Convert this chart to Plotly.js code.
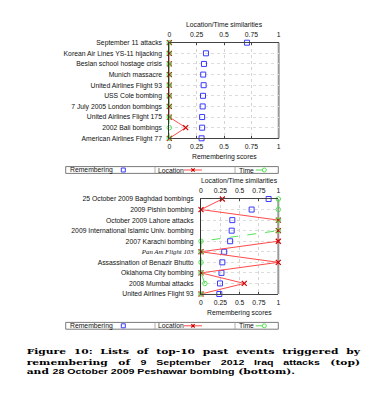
<!DOCTYPE html>
<html>
<head>
<meta charset="utf-8">
<script src="https://cdn.plot.ly/plotly-3.0.1.min.js"></script>
<style>
  html, body { margin: 0; padding: 0; background: #fff; }
  #wrap { position: relative; width: 377px; height: 400px; overflow: hidden; }
  #chart { position: absolute; left: 0; top: 0; width: 377px; height: 400px; }
  #caption {
    position: absolute; left: 26.7px; top: 347.4px; width: 333.3px;
    font-family: "DejaVu Serif", "Liberation Serif", serif; font-weight: bold;
    font-size: 10.7px; line-height: 12.6px; color: #000;
    transform: scaleY(0.765); transform-origin: 0 0;
  }
  #caption div { white-space: nowrap; height: 12.6px; overflow: visible; }
  #caption .j { text-align: justify; text-align-last: justify; }
  #caption .s { font-family: "Liberation Sans", Arial, sans-serif; font-size: 10.6px; }
</style>
</head>
<body>
<div id="wrap">
  <div id="chart"></div>
  <div id="caption">
    <div class="j">Figure 10: Lists of top-10 past events triggered by</div>
    <div class="j">remembering of <span class="s">9 September 2012 Iraq attacks</span> (top)</div>
    <div>and <span class="s">28 October 2009 Peshawar bombing</span> (bottom).</div>
  </div>
</div>
<script>
// ---- Data: top chart (9 September 2012 Iraq attacks) ----
const topEvents = [
  "September 11 attacks",
  "Korean Air Lines YS-11 hijacking",
  "Beslan school hostage crisis",
  "Munich massacre",
  "United Airlines Flight 93",
  "USS Cole bombing",
  "7 July 2005 London bombings",
  "United Airlines Flight 175",
  "2002 Bali bombings",
  "American Airlines Flight 77"
];
const topRemembering = [0.71, 0.335, 0.317, 0.31, 0.314, 0.308, 0.305, 0.30, 0.30, 0.295];
const topLocation    = [0, 0, 0, 0, 0, 0, 0, 0, 0.15, 0];
const topTime        = [0, 0, 0, 0, 0, 0, 0, 0, 0, 0];

// ---- Data: bottom chart (28 October 2009 Peshawar bombing) ----
const bottomEvents = [
  "25 October 2009 Baghdad bombings",
  "2009 Pishin bombing",
  "October 2009 Lahore attacks",
  "2009 International Islamic Univ. bombing",
  "2007 Karachi bombing",
  "Pan Am Flight 103",
  "Assassination of Benazir Bhutto",
  "Oklahoma City bombing",
  "2008 Mumbai attacks",
  "United Airlines Flight 93"
];
const bottomRemembering = [0.875, 0.655, 0.405, 0.397, 0.377, 0.30, 0.276, 0.265, 0.246, 0.237];
const bottomLocation    = [0.276, 0, 1, 1, 1, 0, 1, 0, 0.56, 0];
const bottomTime        = [1, 1, 1, 1, 0, 0, 0, 0, 0.05, 0];

const italicLabels = ["Pan Am Flight 103"];
const scoreTicks = [0, 0.25, 0.5, 0.75, 1];
const scoreTickText = ["0", "0.25", "0.5", "0.75", "1"];
const legendNames = ["Remembering", "Location", "Time"];

// ---- Layout helpers ----
const W = 377, H = 400;
const px = x => x / W;
const py = y => 1 - y / H;
const FONT = "Liberation Sans, Arial, sans-serif";
const FS = 6.8;
const BLUE = "#3a3aff", RED = "#ff4a4a", GREEN = "#55e055";

function tickLabel(s) {
  return italicLabels.includes(s)
    ? "<i><span style='font-family:Liberation Serif, Times New Roman, serif'>" + s + "</span></i>"
    : s;
}

function traces(cats, rem, loc, tim, xb, xt, y) {
  return [
    { x: rem, y: cats, xaxis: xb, yaxis: y, type: "scatter", mode: "markers", cliponaxis: false,
      marker: { symbol: "square-open", size: 5, color: BLUE, line: { width: 1, color: BLUE } }, showlegend: false },
    { x: loc, y: cats, xaxis: xt, yaxis: y, type: "scatter", mode: "lines+markers", cliponaxis: false,
      line: { color: RED, width: 1 },
      marker: { symbol: "x-thin-open", size: 5, color: "#d00000", line: { width: 1.2, color: "#d00000" } }, showlegend: false },
    { x: tim, y: cats, xaxis: xt, yaxis: y, type: "scatter", mode: "lines+markers", cliponaxis: false,
      line: { color: GREEN, width: 1, dash: "dash" },
      marker: { symbol: "circle-open", size: 4.5, color: GREEN, line: { width: 1, color: GREEN } }, showlegend: false }
  ];
}

const data = [
  ...traces(topEvents, topRemembering, topLocation, topTime, "x", "x2", "y"),
  ...traces(bottomEvents, bottomRemembering, bottomLocation, bottomTime, "x3", "x4", "y3")
];

function xAxis(domain, anchor, side, overlay) {
  const a = {
    domain: domain, anchor: anchor, side: side, range: [0, 1],
    tickmode: "array", tickvals: scoreTicks, ticktext: scoreTickText,
    ticks: "inside", ticklen: 2, tickcolor: "#444",
    tickfont: { family: FONT, size: FS, color: "#111" },
    showline: true, linecolor: "#444", linewidth: 1,
    zeroline: false, fixedrange: true, ticklabelstandoff: 2
  };
  if (overlay) { a.overlaying = overlay; a.showgrid = false; }
  else { a.showgrid = true; a.gridcolor = "#d4d4d4"; a.griddash = "dot"; a.gridwidth = 1; }
  return a;
}

function yAxis(domain, anchor, cats) {
  return {
    domain: domain, anchor: anchor, type: "category",
    categoryorder: "array", categoryarray: cats,
    range: [cats.length - 1, 0],
    tickmode: "array", tickvals: cats, ticktext: cats.map(tickLabel),
    ticks: "", showgrid: true, gridcolor: "#dcdcdc", griddash: "dot",
    showline: true, linecolor: "#333", linewidth: 1,
    tickfont: { family: FONT, size: FS, color: "#111" },
    zeroline: false, fixedrange: true, ticklabelstandoff: 5
  };
}

// plot rectangles in pixels
const topBox = { l: 169.3, r: 278.7, t: 42.7, b: 138.3 };
const botBox = { l: 201, r: 278.3, t: 199, b: 294 };

const layout = {
  width: W, height: H,
  margin: { l: 0, r: 0, t: 0, b: 0 },
  paper_bgcolor: "rgba(0,0,0,0)", plot_bgcolor: "#fff",
  showlegend: false,
  font: { family: FONT, size: FS, color: "#111" },
  xaxis:  xAxis([px(topBox.l), px(topBox.r)], "y", "bottom"),
  xaxis2: xAxis([px(topBox.l), px(topBox.r)], "y", "top", "x"),
  yaxis:  yAxis([py(topBox.b), py(topBox.t)], "x", topEvents),
  xaxis3: xAxis([px(botBox.l), px(botBox.r)], "y3", "bottom"),
  xaxis4: xAxis([px(botBox.l), px(botBox.r)], "y3", "top", "x3"),
  yaxis3: yAxis([py(botBox.b), py(botBox.t)], "x3", bottomEvents),
  shapes: [], annotations: []
};

// right edge of each frame: thicker grey line
[["x", "y"], ["x3", "y3"]].forEach(([xa, ya]) => {
  layout.shapes.push({ type: "line", xref: xa + " domain", yref: ya + " domain",
    x0: 1, x1: 1, y0: 0, y1: 1, line: { color: "#9a9a9a", width: 2 }, layer: "below" });
});

function note(text, x, y, xanchor, size, extra) {
  layout.annotations.push(Object.assign({
    text: text, xref: "paper", yref: "paper", x: px(x), y: py(y),
    xanchor: xanchor || "center", yanchor: "middle", showarrow: false,
    font: { family: FONT, size: size || FS, color: "#111" }
  }, extra || {}));
}

// axis titles
note("Location/Time similarities", (topBox.l + topBox.r) / 2, 24.5);
note("Remembering scores", (topBox.l + topBox.r) / 2, 156.7);
note("Location/Time similarities", (botBox.l + botBox.r) / 2, 180.7);
note("Remembering scores", (botBox.l + botBox.r) / 2, 313.3);

// custom legends (text then glyph), drawn as layout shapes
function legendBox(yc) {
  const L = 65.7, R = 278.3, h = 3.4;
  const line = (x0, y0, x1, y1, color, width, dash) => layout.shapes.push({
    type: "line", xref: "paper", yref: "paper",
    x0: px(x0), y0: py(y0), x1: px(x1), y1: py(y1),
    line: { color: color, width: width, dash: dash || "solid" } });
  layout.shapes.push({ type: "rect", xref: "paper", yref: "paper",
    x0: px(L), x1: px(R), y0: py(yc + h), y1: py(yc - h),
    line: { color: "#7a7a7a", width: 1 }, fillcolor: "#fff" });
  line(155, yc - h, 155, yc + h, "#9a9a9a", 0.8);
  line(235, yc - h, 235, yc + h, "#9a9a9a", 0.8);
  note(legendNames[0], 68.3, yc, "left");
  note(legendNames[1], 156.3, yc, "left");
  note(legendNames[2], 237.3, yc, "left");
  // Remembering glyph
  layout.shapes.push({ type: "rect", xref: "paper", yref: "paper",
    x0: px(121.3), x1: px(125.3), y0: py(yc + 2), y1: py(yc - 2),
    line: { color: BLUE, width: 1 } });
  // Location glyph
  line(184, yc, 202, yc, RED, 1);
  line(191.3, yc - 1.7, 194.7, yc + 1.7, "#d00000", 1.2);
  line(191.3, yc + 1.7, 194.7, yc - 1.7, "#d00000", 1.2);
  // Time glyph
  line(255.7, yc, 273.3, yc, GREEN, 1, "dash");
  layout.shapes.push({ type: "circle", xref: "paper", yref: "paper",
    x0: px(262.3), x1: px(266.3), y0: py(yc + 2), y1: py(yc - 2),
    line: { color: GREEN, width: 1 }, fillcolor: "#fff" });
}
legendBox(170);
legendBox(325.8);

Plotly.newPlot("chart", data, layout, { displayModeBar: false, staticPlot: true });
</script>
</body>
</html>
